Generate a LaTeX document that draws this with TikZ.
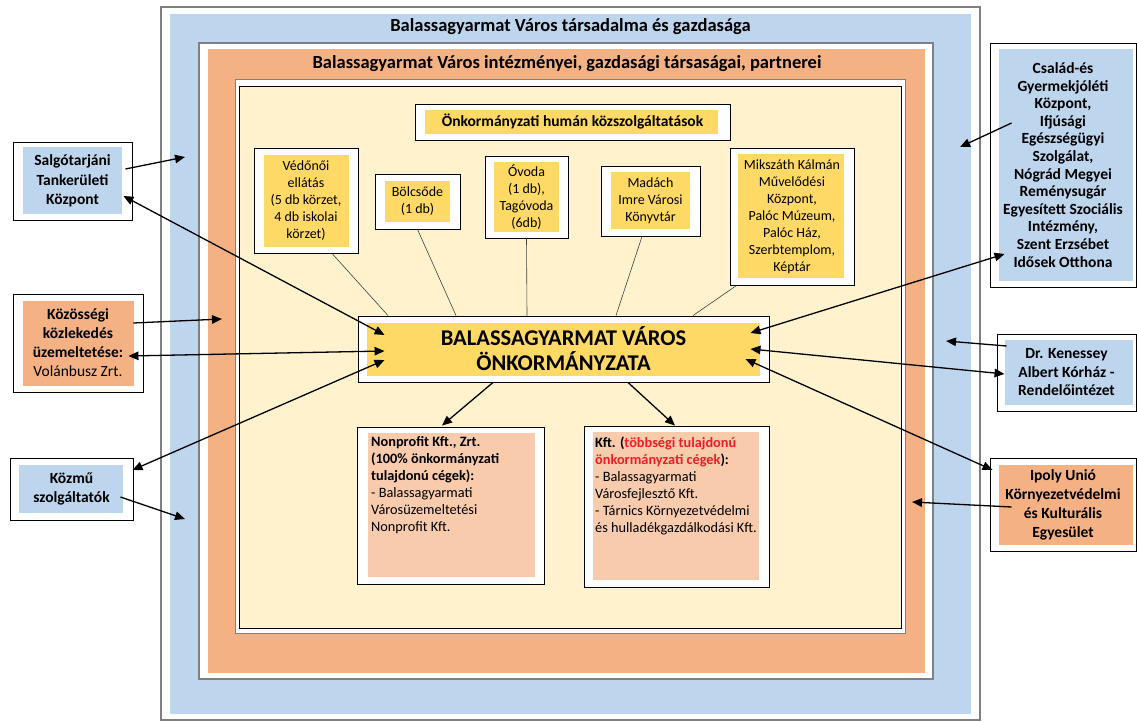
\documentclass[tikz,border=0pt]{standalone}
\usepackage{fontspec}
\setmainfont{Carlito}
\usetikzlibrary{arrows.meta,calc}
\definecolor{cblue}{RGB}{189,214,238}
\definecolor{corange}{RGB}{244,177,131}
\definecolor{ccream}{RGB}{255,242,204}
\definecolor{cyellow}{RGB}{255,217,102}
\definecolor{cpeach}{RGB}{248,203,173}
\definecolor{cred}{RGB}{235,30,35}
\definecolor{cframe}{RGB}{128,128,128}
\tikzset{
  box/.style={draw=black, line width=0.9pt, fill=white, inner sep=0pt, align=center},
  inset/.style n args={5}{path picture={\fill[#1] ([xshift=#2pt,yshift=-#3pt]path picture bounding box.north west) rectangle ([xshift=-#4pt,yshift=#5pt]path picture bounding box.south east);}},
  svc/.style={font=\fontsize{14}{17}\selectfont},
  title/.style={font=\fontsize{18.5}{22}\selectfont\bfseries, inner sep=0pt},
  btext/.style={font=\fontsize{14.3}{17}\selectfont, align=left, inner sep=0pt, anchor=north west},
  conn/.style={draw=black!75, line width=0.6pt},
  arr/.style={-{Triangle[length=10pt,width=8.5pt]}, line width=1.3pt},
  darr/.style={{Triangle[length=10pt,width=8.5pt]}-{Triangle[length=10pt,width=8.5pt]}, line width=1.3pt},
}
\begin{document}
\begin{tikzpicture}[x=1pt,y=-1pt]
\useasboundingbox (0,0) rectangle (1137,722);
% containers
\draw[cframe, line width=1.2pt, fill=white] (161,7) rectangle (980,720);
\fill[cblue] (170,14) rectangle (971,714);
\draw[cframe, line width=1.2pt, fill=white] (199,43) rectangle (933,679);
\fill[corange] (208,49) rectangle (925,673);
\draw[cframe, line width=1pt, fill=white] (235,80) rectangle (905,633);
\draw[black, line width=0.8pt, fill=ccream] (239,86) rectangle (901,628);
\node[title] (t1) at (570.5,26.5) {Balassagyarmat Város társadalma és gazdasága};
\node[title] (t2) at (567,63.5) {Balassagyarmat Város intézményei, gazdasági társaságai, partnerei};
% inner nodes
\node[box, inset={cyellow}{10}{6}{12}{6}, minimum width=315pt, minimum height=36pt, font=\fontsize{15.5}{18}\selectfont\bfseries] (pill) at (572.5,122) {Önkormányzati humán közszolgáltatások};
\node[box, svc, inset={cyellow}{10}{7}{9}{6}, minimum width=104pt, minimum height=105pt] (vedo) at (306,200.5) {Védőnői\\ellátás\\(5 db körzet,\\4 db iskolai\\körzet)};
\node[box, svc, inset={cyellow}{10}{7}{10}{7}, minimum width=85pt, minimum height=55pt] (bolcs) at (417.5,201.5) {Bölcsőde\\(1 db)};
\node[box, svc, inset={cyellow}{9}{6}{9}{6}, minimum width=83pt, minimum height=82pt] (ovoda) at (526.5,197) {Óvoda\\(1 db),\\Tagóvoda\\(6db)};
\node[box, svc, inset={cyellow}{10}{6}{10}{7}, minimum width=99pt, minimum height=70pt] (madach) at (650.5,201) {Madách\\Imre Városi\\Könyvtár};
\node[box, svc, inset={cyellow}{8}{6}{10}{7}, minimum width=124pt, minimum height=137pt] (miksz) at (792,216.5) {Mikszáth Kálmán\\Művelődési\\Központ,\\Palóc Múzeum,\\Palóc Ház,\\Szerbtemplom,\\Képtár};
\node[box, inset={cyellow}{9}{7}{9}{6}, minimum width=411pt, minimum height=66pt, font=\fontsize{22.5}{25}\selectfont\bfseries] (cent) at (563.5,349) {BALASSAGYARMAT VÁROS\\ÖNKORMÁNYZATA};
\node[box, inset={cpeach}{11}{6}{9}{7}, minimum width=187pt, minimum height=157pt] (np) at (450.5,505.5) {};
\node[btext] (npt) at (371,436.5) {\textbf{Nonprofit Kft., Zrt.}\\\textbf{(100\% önkormányzati}\\\textbf{tulajdonú cégek):}\\- Balassagyarmati\\Városüzemeltetési\\Nonprofit Kft.};
\node[box, inset={cpeach}{9}{6}{10}{7}, minimum width=185pt, minimum height=161pt] (kft) at (676.5,506.5) {};
\node[btext] (kftt) at (595,436.5) {\textbf{Kft. (\textcolor{cred}{többségi tulajdonú}}\\\textbf{\textcolor{cred}{önkormányzati cégek}):}\\- Balassagyarmati\\Városfejlesztő Kft.\\- Tárnics Környezetvédelmi\\és hulladékgazdálkodási Kft.};
% side nodes
\node[box, inset={cblue}{10}{5}{10}{6}, minimum width=119pt, minimum height=78pt, font=\fontsize{15.5}{19.5}\selectfont\bfseries] (salg) at (72.5,181) {Salgótarjáni\\Tankerületi\\Központ};
\node[box, inset={corange}{10}{7}{9}{6}, minimum width=130pt, minimum height=98pt, font=\fontsize{15.5}{19}\selectfont] (kozos) at (78,343) {\textbf{Közösségi}\\\textbf{közlekedés}\\\textbf{üzemeltetése:}\\Volánbusz Zrt.};
\node[box, inset={cblue}{9}{7}{10}{7}, minimum width=123pt, minimum height=62pt, font=\fontsize{15.5}{19}\selectfont\bfseries] (kozmu) at (71.5,489) {Közmű\\szolgáltatók};
\node[box, inset={cblue}{9}{6}{3}{6}, minimum width=146pt, minimum height=244pt, font=\fontsize{15.5}{17.6}\selectfont\bfseries] (csal) at (1063,165) {Család-és\\Gyermekjóléti\\Központ,\\Ifjúsági\\Egészségügyi\\Szolgálat,\\Nógrád Megyei\\Reménysugár\\Egyesített Szociális\\Intézmény,\\Szent Erzsébet\\Idősek Otthona};
\node[box, inset={cblue}{8}{6}{3}{6}, minimum width=139pt, minimum height=77pt, font=\fontsize{15.5}{18.5}\selectfont\bfseries] (ken) at (1066.5,372.5) {Dr. Kenessey\\Albert Kórház -\\Rendelőintézet};
\node[box, inset={corange}{9}{7}{3}{6}, minimum width=146pt, minimum height=93pt, font=\fontsize{15.5}{19}\selectfont\bfseries] (ipoly) at (1063,504.5) {Ipoly Unió\\Környezetvédelmi\\és Kulturális\\Egyesület};
% band targets
\coordinate (bSalg) at (185,157);
\coordinate (oKoz) at (222,319);
\coordinate (bKozmu) at (185,519);
\coordinate (bCsal) at (960,147);
\coordinate (bKen) at (946,341);
\coordinate (oIpoly) at (912,502);
% service connectors
\draw[conn] ($(vedo.south)+(26,0)$) -- ($(cent.north)+(-175.5,0)$);
\draw[conn] (bolcs.south) -- ($(cent.north)+(-107.5,0)$);
\draw[conn] (ovoda.south) -- ($(cent.north)+(-36.5,0)$);
\draw[conn] ($(madach.south)+(-8.5,0)$) -- ($(cent.north)+(52.5,0)$);
\draw[conn] ($(miksz.south west)+(7,0)$) -- ($(cent.north)+(129.5,0)$);
% arrows
\draw[arr] ($(salg.east)+(-7,-12)$) -- (bSalg);
\draw[darr] ($(salg.east)+(-9,15)$) -- ($(cent.west)+(27,-14)$);
\draw[arr] ($(kozos.east)+(-10,-20)$) -- (oKoz);
\draw[darr] ($(kozos.east)+(-15,13)$) -- ($(cent.west)+(27,2)$);
\draw[darr] ($(kozmu.east)+(-1,-19)$) -- ($(cent.west)+(27,11)$);
\draw[arr] ($(kozmu.east)+(-13,8)$) -- (bKozmu);
\draw[arr] ($(csal.west)+(22,-42)$) -- (bCsal);
\draw[darr] ($(csal.west)+(15,89)$) -- ($(cent.east)+(-19,-16)$);
\draw[arr] ($(ken.west)+(10,-26.5)$) -- (bKen);
\draw[darr] ($(ken.west)+(8,1.5)$) -- ($(cent.east)+(-19,0)$);
\draw[darr] ($(ipoly.west)+(3,-34.5)$) -- ($(cent.east)+(-24,10)$);
\draw[arr] ($(ipoly.west)+(22,2.5)$) -- (oIpoly);
\draw[arr] ($(cent.south)+(-70.5,0)$) -- ($(np.north)+(-8.5,-1)$);
\draw[arr] ($(cent.south)+(64.5,0)$) -- ($(kft.north)+(-1.5,0)$);
\end{tikzpicture}
\end{document}
